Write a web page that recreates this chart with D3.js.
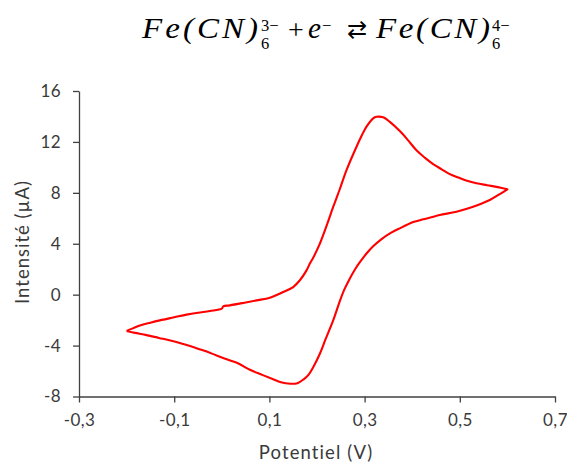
<!DOCTYPE html>
<html>
<head>
<meta charset="utf-8">
<script src="https://cdn.jsdelivr.net/npm/d3@7"></script>
<style>
  html, body { margin: 0; padding: 0; background: #fff; }
  svg { display: block; }
</style>
</head>
<body>
<svg id="chart" width="567" height="465"></svg>
<script>
// ---- data ----
const xTicks = [-0.3, -0.1, 0.1, 0.3, 0.5, 0.7];
const yTicks = [-8, -4, 0, 4, 8, 12, 16];
const xLabel = "Potentiel (V)";
const yLabel = "Intensité (µA)";

// forward (lower) branch, -0.2 V -> 0.6 V
const forwardPotential = [-0.200,-0.182,-0.158,-0.132,-0.108,-0.083,-0.060,-0.033,-0.011,0.016,0.036,0.059,0.085,0.108,0.124,0.144,0.159,0.172,0.182,0.192,0.206,0.218,0.234,0.248,0.258,0.268,0.280,0.292,0.304,0.318,0.335,0.355,0.376,0.388,0.402,0.423,0.440,0.458,0.493,0.528,0.563,0.584,0.600];
const forwardCurrent   = [-2.86,-3.00,-3.18,-3.40,-3.60,-3.85,-4.12,-4.45,-4.78,-5.15,-5.43,-5.90,-6.30,-6.65,-6.88,-7.00,-6.95,-6.65,-6.30,-5.70,-4.64,-3.50,-2.02,-0.50,0.45,1.20,2.00,2.65,3.23,3.80,4.35,4.85,5.25,5.47,5.70,5.92,6.08,6.26,6.52,6.91,7.44,7.90,8.28];

// reverse (upper) branch, 0.6 V -> -0.2 V
const reversePotential = [0.600,0.580,0.557,0.535,0.515,0.497,0.479,0.462,0.444,0.427,0.410,0.392,0.374,0.353,0.339,0.325,0.318,0.304,0.294,0.283,0.262,0.248,0.234,0.220,0.206,0.192,0.185,0.178,0.164,0.150,0.129,0.101,0.073,0.045,0.017,0.003,0.000,-0.025,-0.050,-0.074,-0.100,-0.130,-0.150,-0.172,-0.187,-0.200];
const reverseCurrent   = [8.28,8.45,8.60,8.75,8.95,9.20,9.47,9.85,10.26,10.75,11.30,12.10,12.85,13.58,13.93,13.97,13.85,13.20,12.50,11.62,9.78,8.30,6.89,5.40,4.01,2.90,2.44,1.91,1.13,0.60,0.21,-0.24,-0.45,-0.65,-0.84,-0.92,-1.10,-1.29,-1.42,-1.57,-1.78,-2.02,-2.20,-2.42,-2.65,-2.86];

// ---- layout ----
const svg = d3.select("#chart");
const plotLeft = 79, plotRight = 555, plotTop = 91, plotBottom = 396.5;
const axisColor = "#404040";
const textColor = "#3a3a3a";
const uiFont = "Lato, 'Open Sans', sans-serif";

const x = d3.scaleLinear().domain([-0.3, 0.7]).range([plotLeft, plotRight]);
const y = d3.scaleLinear().domain([-8, 16]).range([plotBottom, plotTop]);

const fmt = d => d3.format(".1f")(d).replace(".", ",").replace("−", "-");

// x axis
const gx = svg.append("g").attr("transform", `translate(0,${plotBottom})`)
  .call(d3.axisBottom(x).tickValues(xTicks).tickSize(6).tickSizeOuter(0).tickPadding(11).tickFormat(fmt));
// y axis
const gy = svg.append("g").attr("transform", `translate(${plotLeft},0)`)
  .call(d3.axisLeft(y).tickValues(yTicks).tickSize(6).tickSizeOuter(0).tickPadding(12).tickFormat(d => String(d)));

[gx, gy].forEach(g => {
  g.select(".domain").attr("stroke", axisColor).attr("stroke-width", 1.3);
  g.selectAll(".tick line").attr("stroke", axisColor).attr("stroke-width", 1.3);
  g.selectAll(".tick text").attr("fill", textColor)
    .style("font-family", uiFont).style("font-size", "17px").style("letter-spacing", "0.4px");
});

// axis titles
svg.append("text").attr("x", 316).attr("y", 459).attr("text-anchor", "middle")
  .style("font-family", uiFont).style("font-size", "18.5px").style("letter-spacing", "1.1px")
  .attr("fill", textColor).text(xLabel);
svg.append("text").attr("transform", "translate(29,242) rotate(-90)").attr("text-anchor", "middle")
  .style("font-family", uiFont).style("font-size", "18.5px").style("letter-spacing", "1.0px")
  .attr("fill", textColor).text(yLabel);

// curve
const pts = forwardPotential.map((v, i) => [v, forwardCurrent[i]])
  .concat(reversePotential.map((v, i) => [v, reverseCurrent[i]]));
const line = d3.line().x(d => x(d[0])).y(d => y(d[1])).curve(d3.curveCatmullRom.alpha(0.5));
svg.append("path").datum(pts).attr("d", line)
  .attr("fill", "none").attr("stroke", "#ff0000").attr("stroke-width", 2.1).attr("stroke-linejoin", "round");

// title (math): Fe(CN)6^3- + e^- ⇄ Fe(CN)6^4-
const titleFont = "'Liberation Serif', serif";
const tg = svg.append("g");
const mainBase = 38.5, supBase = 31, subBase = 49, big = 30, small = 16.5;
// place a piece at x0; optionally widen it (mild stretch + spacing) to a target width
function tpiece(txt, x0, base, size, italic, targetW, anchor) {
  const g = tg.append("g");
  const t = g.append("text").attr("x", 0).attr("y", base)
    .style("font-family", titleFont).style("font-size", size + "px")
    .style("font-weight", "normal")
    .style("font-style", italic ? "italic" : "normal")
    .attr("text-anchor", anchor || "start").attr("fill", "#000").text(txt);
  let sx = 1;
  if (targetW) {
    const w = t.node().getComputedTextLength();
    sx = Math.min(1.1, targetW / w);
    if (txt.length > 1) t.attr("textLength", targetW / sx).attr("lengthAdjust", "spacing");
  }
  g.attr("transform", `translate(${x0},0) scale(${sx},1)`);
  return t;
}
tpiece("Fe(CN)", 142, mainBase, big, true, 116);
tpiece("3−", 261, supBase, small, false);
tpiece("6", 261, subBase, small, false);
tpiece("+", 296, mainBase, 28, false, null, "middle");
tpiece("e", 308, mainBase, big, true, 13);
tpiece("−", 322, supBase, small, false);
tpiece("⇄", 357, mainBase - 1, 24, false, null, "middle");
tpiece("Fe(CN)", 376, mainBase, big, true, 114);
tpiece("4−", 492, supBase, small, false);
tpiece("6", 492, subBase, small, false);
</script>
</body>
</html>
